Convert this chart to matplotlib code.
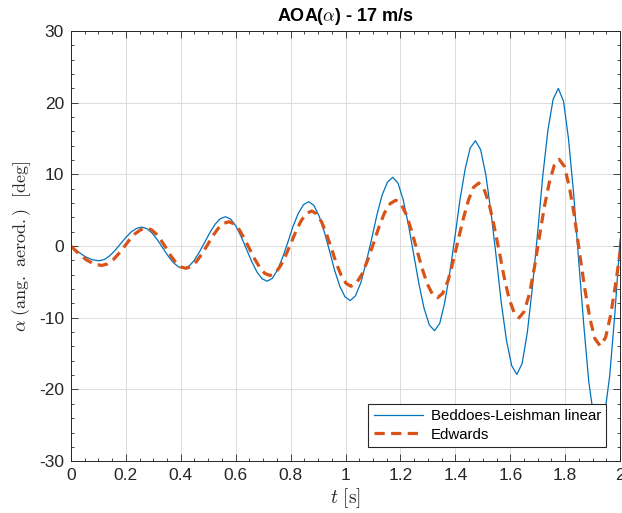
import matplotlib
matplotlib.use("Agg")
import matplotlib.pyplot as plt
from matplotlib.ticker import MultipleLocator

# ---------- data ----------
t_bl = [0.000, 0.026, 0.051, 0.077, 0.102,
        0.122, 0.141, 0.161, 0.180, 0.200, 0.219, 0.239, 0.258,
        0.277, 0.296, 0.315, 0.334, 0.353, 0.372, 0.391, 0.410,
        0.429, 0.448, 0.467, 0.487, 0.506, 0.525, 0.544, 0.563,
        0.582, 0.601, 0.620, 0.639, 0.658, 0.677, 0.696, 0.715,
        0.734, 0.753, 0.772, 0.791, 0.809, 0.828, 0.847, 0.866,
        0.885, 0.904, 0.923, 0.942, 0.960, 0.979, 0.998, 1.017,
        1.036, 1.056, 1.075, 1.095, 1.114, 1.133, 1.153, 1.172,
        1.191, 1.210, 1.229, 1.248, 1.267, 1.286, 1.305, 1.324,
        1.343, 1.361, 1.380, 1.399, 1.417, 1.436, 1.454, 1.473,
        1.492, 1.511, 1.530, 1.549, 1.567, 1.586, 1.605, 1.624,
        1.643, 1.662, 1.681, 1.700, 1.718, 1.737, 1.756, 1.775,
        1.794, 1.812, 1.831, 1.849, 1.868, 1.886, 1.905, 1.923,
        1.942, 1.962, 1.981, 2.000]
alpha_bl = [0.00, -0.78, -1.45, -1.89, -2.05,
            -1.87, -1.36, -0.60, 0.30, 1.20, 1.96, 2.47, 2.65,
            2.43, 1.81, 0.88, -0.23, -1.33, -2.26, -2.88, -3.10,
            -2.83, -2.05, -0.88, 0.50, 1.88, 3.05, 3.83, 4.10,
            3.76, 2.78, 1.32, -0.40, -2.12, -3.58, -4.56, -4.90,
            -4.48, -3.27, -1.47, 0.65, 2.77, 4.57, 5.78, 6.20,
            5.67, 4.18, 1.94, -0.70, -3.34, -5.58, -7.07, -7.60,
            -6.95, -5.08, -2.29, 1.00, 4.29, 7.08, 8.95, 9.60,
            8.79, 6.47, 3.00, -1.10, -5.20, -8.67, -10.99, -11.80,
            -10.79, -7.92, -3.62, 1.45, 6.52, 10.82, 13.69, 14.70,
            13.46, 9.93, 4.64, -1.60, -7.84, -13.13, -16.66, -17.90,
            -16.38, -12.06, -5.58, 2.05, 9.68, 16.16, 20.48, 22.00,
            20.17, 14.97, 7.18, -2.00, -11.18, -18.97, -24.17, -26.00,
            -23.95, -18.09, -9.34, 1.00]

t_ed = [0.000, 0.028, 0.056, 0.084, 0.112,
        0.132, 0.153, 0.173, 0.194, 0.214, 0.234, 0.255, 0.275,
        0.293, 0.311, 0.329, 0.347, 0.364, 0.382, 0.400, 0.418,
        0.438, 0.457, 0.477, 0.497, 0.516, 0.536, 0.555, 0.575,
        0.594, 0.613, 0.631, 0.650, 0.669, 0.688, 0.706, 0.725,
        0.744, 0.763, 0.782, 0.801, 0.820, 0.839, 0.858, 0.877,
        0.895, 0.913, 0.931, 0.949, 0.966, 0.984, 1.002, 1.020,
        1.040, 1.061, 1.081, 1.102, 1.122, 1.142, 1.163, 1.183,
        1.202, 1.221, 1.240, 1.259, 1.278, 1.297, 1.316, 1.335,
        1.354, 1.373, 1.391, 1.410, 1.429, 1.448, 1.466, 1.485,
        1.503, 1.522, 1.540, 1.559, 1.577, 1.595, 1.614, 1.632,
        1.650, 1.669, 1.687, 1.705, 1.723, 1.742, 1.760, 1.778,
        1.797, 1.815, 1.834, 1.852, 1.871, 1.890, 1.908, 1.927,
        1.947, 1.966, 1.986, 2.000]
alpha_ed = [0.00, -1.03, -1.91, -2.49, -2.70,
            -2.50, -1.94, -1.10, -0.10, 0.90, 1.74, 2.30, 2.50,
            2.29, 1.68, 0.77, -0.30, -1.37, -2.28, -2.89, -3.10,
            -2.85, -2.15, -1.09, 0.15, 1.39, 2.45, 3.15, 3.40,
            3.11, 2.30, 1.09, -0.35, -1.79, -3.00, -3.81, -4.10,
            -3.76, -2.78, -1.32, 0.40, 2.12, 3.58, 4.56, 4.90,
            4.50, 3.36, 1.66, -0.35, -2.36, -4.06, -5.20, -5.60,
            -5.14, -3.84, -1.90, 0.40, 2.70, 4.64, 5.94, 6.40,
            5.88, 4.41, 2.20, -0.40, -3.00, -5.21, -6.68, -7.20,
            -6.59, -4.86, -2.26, 0.80, 3.86, 6.46, 8.19, 8.80,
            8.08, 6.05, 3.00, -0.60, -4.20, -7.25, -9.28, -10.00,
            -9.16, -6.76, -3.18, 1.05, 5.28, 8.86, 11.26, 12.10,
            11.11, 8.29, 4.08, -0.90, -5.88, -10.09, -12.91, -13.90,
            -12.76, -9.52, -4.67, -0.72]

series_names = ["Beddoes-Leishman linear", "Edwards"]
x_ticks = [0, 0.2, 0.4, 0.6, 0.8, 1, 1.2, 1.4, 1.6, 1.8, 2]
y_ticks = [-30, -20, -10, 0, 10, 20, 30]

# ---------- style ----------
plt.rcParams["font.family"] = ["Liberation Sans", "DejaVu Sans"]
plt.rcParams["mathtext.fontset"] = "cm"
plt.rcParams["axes.unicode_minus"] = False
ink = "#262626"

fig = plt.figure(figsize=(6.22, 5.13), dpi=100, facecolor="white")
ax = fig.add_axes([0.114, 0.101, 0.883, 0.8385])

ax.plot(t_bl, alpha_bl, color="#0072BD", lw=0.9, label=series_names[0])
ax.plot(t_ed, alpha_ed, color="#D95319", lw=2.3, linestyle=(0, (3.2, 2.0)),
        label=series_names[1])

ax.set_xlim(0, 2)
ax.set_ylim(-30, 30)
ax.set_xticks(x_ticks)
ax.set_xticklabels([f"{v:g}" for v in x_ticks])
ax.set_yticks(y_ticks)
ax.set_yticklabels([f"{v:d}" for v in y_ticks])
ax.xaxis.set_minor_locator(MultipleLocator(0.05))
ax.yaxis.set_minor_locator(MultipleLocator(2))
ax.tick_params(which="both", direction="in", top=True, right=True,
               colors=ink, labelsize=12.5, width=0.6)
ax.tick_params(which="major", length=5, pad=5)
ax.tick_params(which="minor", length=2.5)

ax.grid(True, which="major", color="#dcdcdc", lw=0.7)
ax.set_axisbelow(True)
for sp in ax.spines.values():
    sp.set_color(ink)
    sp.set_linewidth(0.7)

ax.set_xlabel(r"$t\ \mathrm{[s]}$", fontsize=14, color=ink, labelpad=2)
ax.set_ylabel(r"$\alpha\ \mathrm{(ang.\ aerod.)\ \ [deg]}$", fontsize=13,
              color=ink, labelpad=4)
ax.set_title(r"AOA($\alpha$) - 17 m/s", fontsize=13, fontweight="bold",
             color="black", pad=7)

leg = ax.legend(loc="lower right", bbox_to_anchor=(0.9745, 0.033),
                fontsize=10.8, frameon=True, fancybox=False, framealpha=1,
                edgecolor=ink, borderpad=0.35, handlelength=3.3,
                handletextpad=0.5, labelspacing=0.3, borderaxespad=0)
leg.get_frame().set_linewidth(0.8)

fig.savefig("out.png", dpi=100, facecolor="white")
